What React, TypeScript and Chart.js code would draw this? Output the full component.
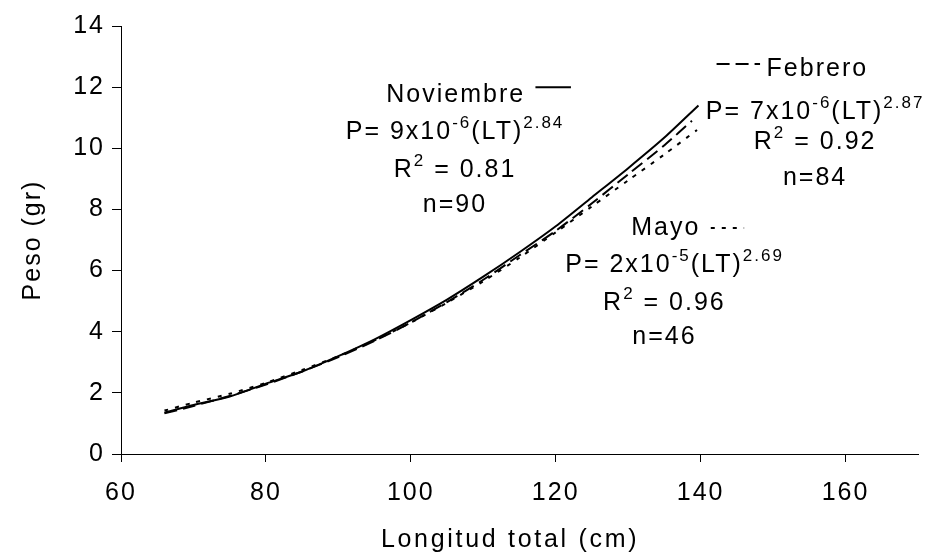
import React, { useEffect, useRef } from 'react';
import { Chart, registerables } from 'chart.js';

Chart.register(...registerables);

// ---- Data ----
const novLength = [66, 70, 75, 80, 85, 90, 95, 100, 105, 110, 115, 120, 125, 130, 135, 139.7];
const novWeight = [1.35, 1.6, 1.88, 2.3, 2.7, 3.2, 3.75, 4.38, 5.05, 5.8, 6.6, 7.45, 8.4, 9.35, 10.35, 11.4];

const febLength = [66, 70, 75, 80, 85, 90, 95, 100, 105, 110, 115, 120, 125, 130, 135, 138.8];
const febWeight = [1.33, 1.57, 1.9, 2.27, 2.7, 3.17, 3.7, 4.3, 4.97, 5.7, 6.5, 7.3, 8.2, 9.15, 10.1, 10.9];

const mayLength = [66, 70, 75, 80, 85, 90, 95, 100, 105, 110, 115, 120, 125, 130, 135, 139.5];
const mayWeight = [1.42, 1.68, 1.97, 2.33, 2.75, 3.2, 3.72, 4.3, 4.95, 5.65, 6.42, 7.25, 8.1, 8.95, 9.8, 10.6];

const xTickValues = [60, 80, 100, 120, 140, 160];
const yTickValues = [0, 2, 4, 6, 8, 10, 12, 14];

const xTitle = 'Longitud total (cm)';
const yTitle = 'Peso (gr)';

const seriesNames = ['Noviembre', 'Febrero', 'Mayo'];
const equations = [
  ['P= 9x10', '-6', '(LT)', '2.84'],
  ['P= 7x10', '-6', '(LT)', '2.87'],
  ['P= 2x10', '-5', '(LT)', '2.69'],
];
const rSquared = ['0.81', '0.92', '0.96'];
const sampleSizes = ['90', '84', '46'];

// ---- Styling / layout ----
const FAMILY = '"Liberation Sans", Arial, Helvetica, sans-serif';
const FONT_SIZE = 25;
const SUP_SIZE = 17;
const SPACING = '2px';
const TITLE_SPACING = '2.7px';
const DASHES: number[][] = [[], [13, 6], [4, 7]];

// annotation anchors in data units
const blocks = [
  {
    name: { x: 106.2, y: 11.74, align: 'center' }, sample: { x0: 117.2, x1: 122.1, y: 12.0 },
    eq: { x: 106.1, y: 10.53 }, r2: { x: 106.1, y: 9.29 }, n: { x: 106.1, y: 8.15 },
  },
  {
    name: { x: 149.1, y: 12.59, align: 'left' }, sample: { x0: 142.2, x1: 148.2, y: 12.76 },
    eq: { x: 155.8, y: 11.19 }, r2: { x: 155.8, y: 10.21 }, n: { x: 155.8, y: 9.03 },
  },
  {
    name: { x: 135.2, y: 7.39, align: 'center' }, sample: { x0: 141.4, x1: 146.0, y: 7.39 },
    eq: { x: 136.4, y: 6.18 }, r2: { x: 135.0, y: 4.94 }, n: { x: 135.0, y: 3.83 },
  },
];

type Seg = [string, boolean];

function drawRich(ctx: CanvasRenderingContext2D, segs: Seg[], x: number, y: number, align: string) {
  const main = `${FONT_SIZE}px ${FAMILY}`;
  const sup = `${SUP_SIZE}px ${FAMILY}`;
  let total = 0;
  const widths = segs.map(([t, s]) => {
    ctx.font = s ? sup : main;
    const w = ctx.measureText(t).width;
    total += w;
    return w;
  });
  let cur = align === 'center' ? x - total / 2 : x;
  segs.forEach(([t, s], i) => {
    ctx.font = s ? sup : main;
    ctx.fillText(t, cur, s ? y - 9 : y);
    cur += widths[i];
  });
}

const spacingPlugin = {
  id: 'spacing',
  beforeUpdate(chart: any) { chart.ctx.letterSpacing = SPACING; },
  beforeLayout(chart: any) { chart.ctx.letterSpacing = SPACING; },
  beforeDraw(chart: any) { chart.ctx.letterSpacing = SPACING; },
};

const annotationPlugin = {
  id: 'annotations',
  afterDraw(chart: any) {
    const ctx: CanvasRenderingContext2D = chart.ctx;
    const xs = chart.scales.x;
    const ys = chart.scales.y;
    ctx.save();
    ctx.fillStyle = '#000';
    ctx.textBaseline = 'middle';
    ctx.textAlign = 'left';

    // x axis title
    ctx.letterSpacing = TITLE_SPACING;
    drawRich(ctx, [[xTitle, false]], xs.getPixelForValue(113.7), chart.height - 18, 'center');

    ctx.letterSpacing = SPACING;
    blocks.forEach((b, i) => {
      drawRich(ctx, [[seriesNames[i], false]], xs.getPixelForValue(b.name.x), ys.getPixelForValue(b.name.y), b.name.align);
      ctx.save();
      ctx.strokeStyle = '#000';
      ctx.lineWidth = 2;
      ctx.setLineDash(DASHES[i]);
      ctx.beginPath();
      ctx.moveTo(xs.getPixelForValue(b.sample.x0), ys.getPixelForValue(b.sample.y));
      ctx.lineTo(xs.getPixelForValue(b.sample.x1), ys.getPixelForValue(b.sample.y));
      ctx.stroke();
      ctx.restore();
      const eq = equations[i];
      drawRich(ctx, [[eq[0], false], [eq[1], true], [eq[2], false], [eq[3], true]],
        xs.getPixelForValue(b.eq.x), ys.getPixelForValue(b.eq.y), 'center');
      drawRich(ctx, [['R', false], ['2', true], [' = ' + rSquared[i], false]],
        xs.getPixelForValue(b.r2.x), ys.getPixelForValue(b.r2.y), 'center');
      drawRich(ctx, [['n=' + sampleSizes[i], false]],
        xs.getPixelForValue(b.n.x), ys.getPixelForValue(b.n.y), 'center');
    });
    ctx.restore();
  },
};

function toPoints(xs: number[], ys: number[]) {
  return xs.map((x, i) => ({ x, y: ys[i] }));
}

export default function App() {
  const canvasRef = useRef<HTMLCanvasElement | null>(null);

  useEffect(() => {
    document.body.style.margin = '0';
    const canvas = canvasRef.current!;
    const tickFont = { family: FAMILY, size: FONT_SIZE };
    const lineDs = (label: string, xs: number[], ys: number[], dash: number[]) => ({
      label,
      data: toPoints(xs, ys),
      showLine: true,
      borderColor: '#000',
      backgroundColor: '#000',
      borderWidth: 2,
      borderDash: dash,
      pointRadius: 0,
      tension: 0.25,
    });
    const chart = new Chart(canvas, {
      type: 'scatter',
      data: {
        datasets: [
          lineDs(seriesNames[0], novLength, novWeight, DASHES[0]),
          lineDs(seriesNames[1], febLength, febWeight, DASHES[1]),
          lineDs(seriesNames[2], mayLength, mayWeight, DASHES[2]),
        ],
      },
      options: {
        responsive: false,
        animation: false,
        events: [],
        layout: { padding: { left: 0, right: 14, top: 26, bottom: 0 } },
        plugins: { legend: { display: false }, tooltip: { enabled: false } },
        scales: {
          x: {
            type: 'linear',
            min: 60,
            max: 170,
            afterBuildTicks: (s: any) => { s.ticks = xTickValues.map((v) => ({ value: v })); },
            afterFit: (s: any) => { s.height = 104; },
            ticks: { font: tickFont, color: '#000', padding: 16, maxRotation: 0 },
            grid: { display: true, drawOnChartArea: false, drawTicks: true, tickLength: 8, color: '#000', lineWidth: 1 },
            border: { display: true, color: '#000', width: 1 },
            title: { display: false, text: xTitle },
          },
          y: {
            type: 'linear',
            min: 0,
            max: 14,
            afterBuildTicks: (s: any) => { s.ticks = yTickValues.map((v) => ({ value: v })); },
            afterFit: (s: any) => { s.width = 121; },
            ticks: { font: tickFont, color: '#000', padding: 7 },
            grid: { display: true, drawOnChartArea: false, drawTicks: true, tickLength: 9, color: '#000', lineWidth: 1 },
            border: { display: true, color: '#000', width: 1 },
            title: { display: true, text: yTitle, font: tickFont, color: '#000', padding: { top: 18, bottom: 0 } },
          },
        },
      },
      plugins: [spacingPlugin, annotationPlugin],
    } as any);
    return () => chart.destroy();
  }, []);

  return (
    <div style={{ position: 'absolute', left: 0, top: 0, width: 932, height: 558, background: '#fff' }}>
      <canvas ref={canvasRef} width={932} height={558} style={{ display: 'block' }} />
    </div>
  );
}
